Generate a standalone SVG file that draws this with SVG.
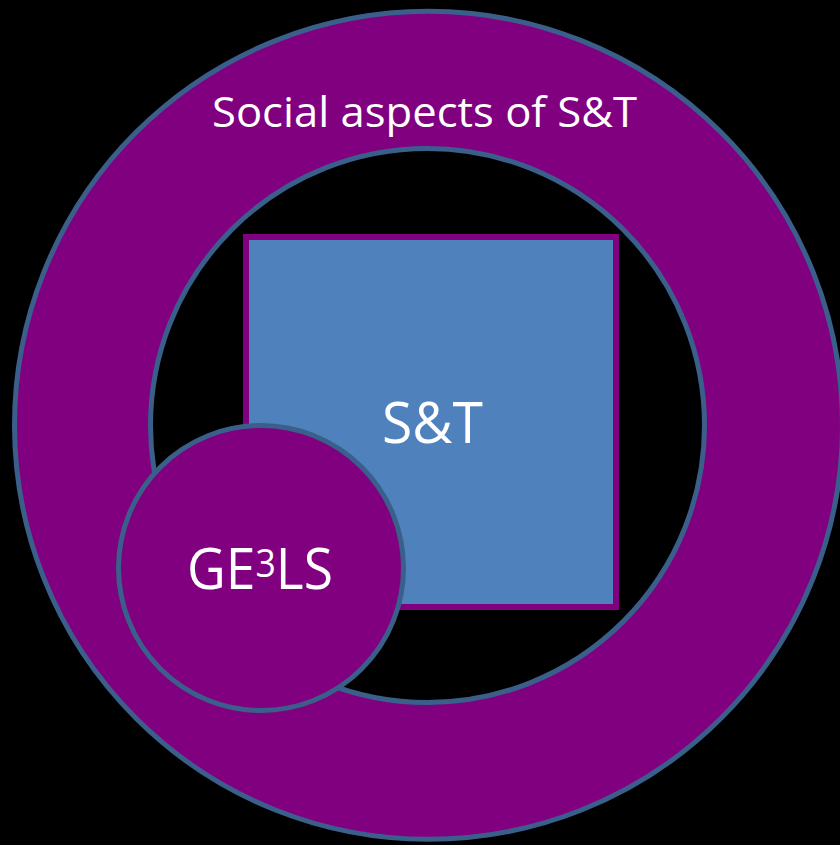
<svg xmlns="http://www.w3.org/2000/svg" width="840" height="845" viewBox="0 0 840 845">
<style>
.lbl{font-family:"Open Sans","Liberation Sans",sans-serif;fill:#ffffff;text-anchor:middle}
.shape{stroke:#3a5f8b;stroke-width:5}
</style>
<rect x="0" y="0" width="840" height="845" fill="#000000"/>
<g id="social-ring">
<path class="shape" fill="#800080" fill-rule="evenodd" d="M 14.5 425.3 A 414 414 0 1 0 842.5 425.3 A 414 414 0 1 0 14.5 425.3 Z M 150.5 425.5 A 277 277 0 1 1 704.5 425.5 A 277 277 0 1 1 150.5 425.5 Z"/>
<text class="lbl" x="424.5" y="127" font-size="42" textLength="425" lengthAdjust="spacingAndGlyphs">Social aspects of S&amp;T</text>
</g>
<g id="st-square">
<rect x="246" y="237" width="370" height="370" fill="#4f81bd" stroke="#800080" stroke-width="6"/>
<text class="lbl" x="432.5" y="443" font-size="56" textLength="101" lengthAdjust="spacingAndGlyphs">S&amp;T</text>
</g>
<g id="ge3ls">
<circle class="shape" cx="261" cy="568" r="142.5" fill="#800080"/>
<text class="lbl" x="260" y="589" font-size="57" textLength="146" lengthAdjust="spacingAndGlyphs">GE<tspan font-size="38" dy="-12">3</tspan><tspan dy="12">LS</tspan></text>
</g>
<g id="connectors"/>
</svg>
